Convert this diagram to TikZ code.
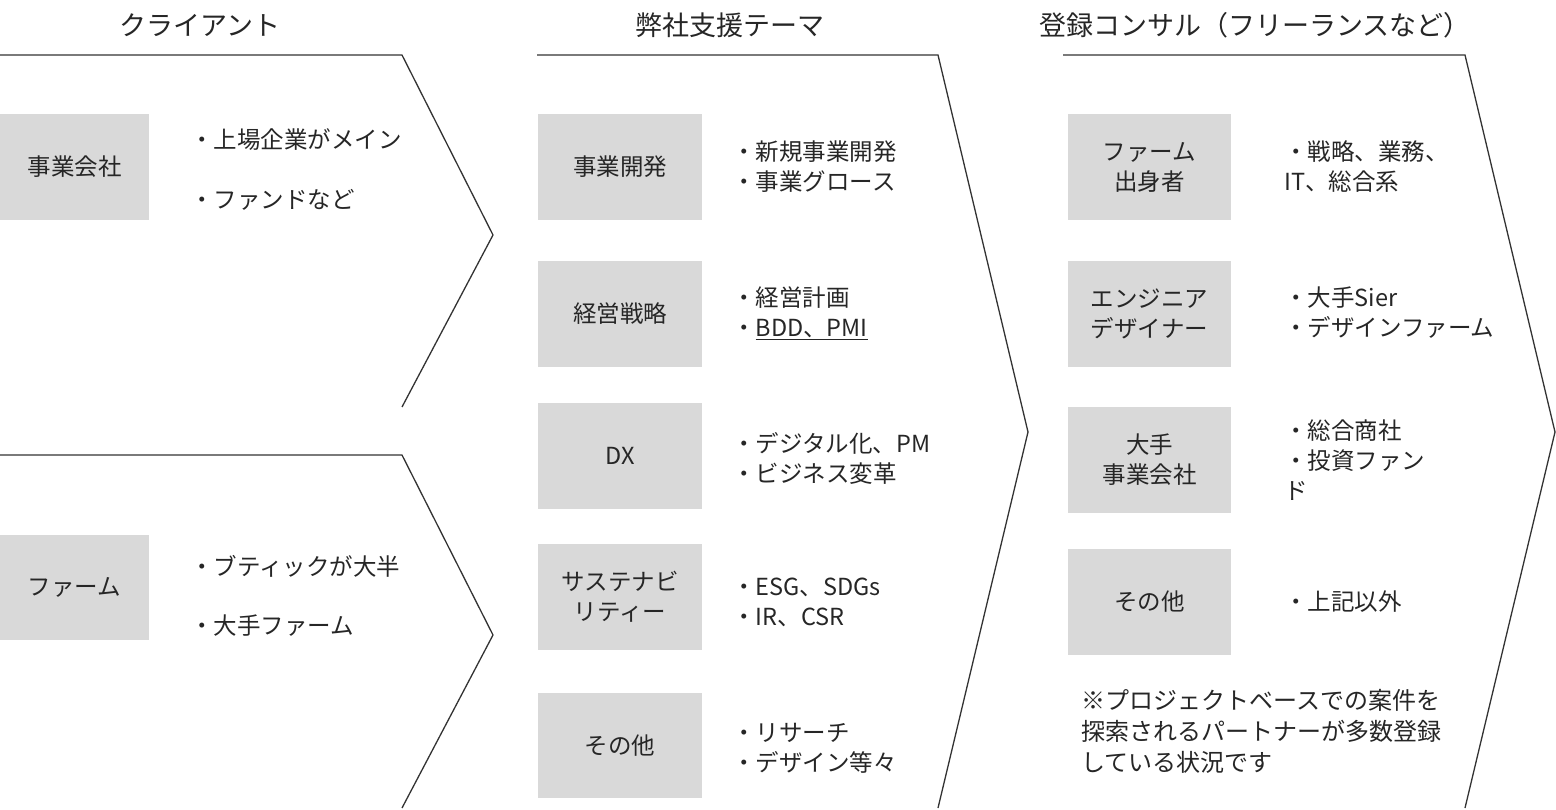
\documentclass[tikz,border=0pt]{standalone}
\usepackage{fontspec}
\setmainfont{Noto Sans CJK JP}
\begin{document}
\begin{tikzpicture}[x=1pt,y=-1pt,
 box/.style={fill=gray!30,draw=none,inner sep=0pt,text=black!85,font=\fontsize{23.5}{30}\selectfont,align=center},
 txt/.style={anchor=west,inner sep=0pt,text=black!85,font=\fontsize{23.5}{30}\selectfont,align=left},
 hd/.style={inner sep=0pt,text=black!85,font=\fontsize{27}{30}\selectfont},
 chev/.style={draw=black!80,line width=1.3pt}]
\useasboundingbox (0,0) rectangle (1556,810);
% chevrons
\draw[chev] (0,55)--(402,55)--(493,235)--(402,407);
\draw[chev] (0,455)--(402,455)--(493,635)--(402,808);
\draw[chev] (537,55)--(938,55)--(1028,432)--(938,808);
\draw[chev] (1063,55)--(1465,55)--(1555,432)--(1465,808);
% headers
\node[hd] (h1) at (200,25) {クライアント};
\node[hd] (h2) at (730,25) {弊社支援テーマ};
\node[hd] (h3) at (1255,25) {登録コンサル（フリーランスなど）};
% left boxes
\node[box,minimum width=149,minimum height=106] (c1) at (74.5,167) {事業会社};
\node[box,minimum width=149,minimum height=105] (c2) at (74.5,587.5) {ファーム};
\node[txt] (t1a) at (190,140) {・上場企業がメイン};
\node[txt] (t1b) at (190,200) {・ファンドなど};
\node[txt] (t2a) at (190,566) {・ブティックが大半};
\node[txt] (t2b) at (190,626) {・大手ファーム};
% middle boxes
\node[box,minimum width=164,minimum height=106] (m1) at (620,167) {事業開発};
\node[box,minimum width=164,minimum height=106] (m2) at (620,314) {経営戦略};
\node[box,minimum width=164,minimum height=106] (m3) at (620,456) {DX};
\node[box,minimum width=164,minimum height=106] (m4) at (620,597) {サステナビ\\リティー};
\node[box,minimum width=164,minimum height=105] (m5) at (620,745.5) {その他};
\node[txt] (u1) at (732,167) {・新規事業開発\\・事業グロース};
\node[txt] (u2) at (732,313) {・経営計画\\・\underline{BDD、PMI}};
\node[txt] (u3) at (732,458) {・デジタル化、PM\\・ビジネス変革};
\node[txt] (u4) at (732,602) {・ESG、SDGs\\・IR、CSR};
\node[txt] (u5) at (732,748) {・リサーチ\\・デザイン等々};
% right boxes
\node[box,minimum width=163,minimum height=106] (r1) at (1149.5,167) {ファーム\\出身者};
\node[box,minimum width=163,minimum height=106] (r2) at (1149.5,314) {エンジニア\\デザイナー};
\node[box,minimum width=163,minimum height=106] (r3) at (1149.5,460) {大手\\事業会社};
\node[box,minimum width=163,minimum height=106] (r4) at (1149.5,602) {その他};
\node[txt] (v1) at (1284,167) {・戦略、業務、\\IT、総合系};
\node[txt] (v2) at (1284,313) {・大手Sier\\・デザインファーム};
\node[txt] (v3) at (1284,460) {・総合商社\\・投資ファン\\ド};
\node[txt] (v4) at (1284,602) {・上記以外};
\node[txt,font=\fontsize{24}{31}\selectfont] (note) at (1081,731) {※プロジェクトベースでの案件を\\探索されるパートナーが多数登録\\している状況です};
\end{tikzpicture}
\end{document}
